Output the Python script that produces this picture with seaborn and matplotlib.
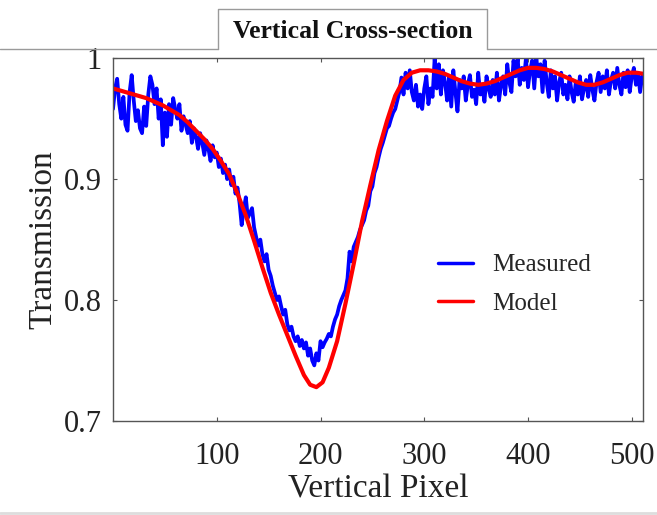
import numpy as np
import pandas as pd
import matplotlib
matplotlib.use("Agg")
import matplotlib.pyplot as plt
from matplotlib.lines import Line2D
import seaborn as sns

# ---------------- data ----------------
meas_x = list(range(0, 512, 2))
meas_y = [
    # 0 - 70
    0.958, 0.975, 0.983, 0.962, 0.950, 0.968, 0.945, 0.940, 0.972, 0.986,
    0.965, 0.948, 0.957, 0.942, 0.938, 0.960, 0.944, 0.970, 0.985, 0.978,
    0.962, 0.975, 0.950, 0.966, 0.928, 0.955, 0.935, 0.962, 0.945, 0.967,
    0.958, 0.950, 0.962, 0.940, 0.952, 0.945,
    # 72 - 120
    0.938, 0.948, 0.930, 0.942, 0.935, 0.925, 0.938, 0.930, 0.920, 0.932,
    0.925, 0.915, 0.928, 0.918, 0.922, 0.910, 0.917, 0.905, 0.912, 0.900,
    0.908, 0.895, 0.902, 0.888, 0.893,
    # 122 - 200
    0.880, 0.862, 0.875, 0.885, 0.868, 0.872, 0.876, 0.860, 0.852, 0.845,
    0.850, 0.838, 0.832, 0.838, 0.825, 0.820, 0.812, 0.806, 0.800, 0.803,
    0.795, 0.788, 0.792, 0.780, 0.775, 0.778, 0.770, 0.766, 0.770, 0.762,
    0.767, 0.760, 0.765, 0.754, 0.760, 0.750, 0.746, 0.756, 0.750, 0.766,
    # 202 - 280
    0.761, 0.765, 0.768, 0.772, 0.770, 0.778, 0.784, 0.788, 0.795, 0.800,
    0.804, 0.808, 0.818, 0.840, 0.832, 0.844, 0.848, 0.852, 0.858, 0.862,
    0.866, 0.874, 0.878, 0.890, 0.894, 0.905, 0.910, 0.918, 0.925, 0.930,
    0.936, 0.942, 0.944, 0.950, 0.955, 0.958, 0.965, 0.972, 0.984, 0.970,
    # 282 - 510
    0.988, 0.975, 0.990, 0.972, 0.965, 0.978, 0.960, 0.970, 0.958, 0.975,
    0.985, 0.962, 0.975, 0.968, 1.000, 0.975, 0.995, 0.970, 0.990, 0.980,
    0.965, 0.985, 0.960, 0.990, 0.972, 0.956, 0.982, 0.975, 0.985, 0.965,
    0.978, 0.986, 0.968, 0.974, 0.962, 0.988, 0.970, 0.976, 0.964, 0.985,
    0.975, 0.968, 0.982, 0.970, 0.988, 0.965, 0.978, 0.985, 0.970, 0.995,
    0.980, 0.972, 0.998, 0.985, 1.000, 0.978, 0.992, 0.982, 1.000, 0.976,
    0.990, 0.998, 0.975, 1.000, 0.985, 0.995, 0.972, 0.998, 0.980, 0.968,
    0.990, 0.975, 0.985, 0.965, 0.980, 0.988, 0.970, 0.978, 0.966, 0.985,
    0.972, 0.964, 0.980, 0.970, 0.985, 0.966, 0.975, 0.982, 0.968, 0.986,
    0.974, 0.965, 0.980, 0.988, 0.972, 0.985, 0.975, 0.990, 0.970, 0.982,
    0.988, 0.975, 0.992, 0.978, 0.970, 0.988, 0.976, 0.990, 0.972, 0.985,
    0.992, 0.978, 0.988, 0.972, 0.985,
]

model_x = [0, 8, 16, 24, 32, 40, 48, 56, 64, 72, 80, 88, 96, 104, 112, 120,
           128, 136, 144, 152, 160, 168, 176, 184, 190, 196, 202, 208, 216,
           224, 232, 240, 248, 256, 264, 272, 280, 288, 296, 304, 312, 320,
           328, 336, 344, 352, 360, 368, 376, 384, 392, 400, 408, 416, 424,
           432, 440, 448, 456, 464, 472, 480, 488, 496, 504, 512]
model_y = [0.975, 0.973, 0.971, 0.969, 0.967, 0.964, 0.961, 0.957, 0.953,
           0.947, 0.940, 0.933, 0.925, 0.915, 0.904, 0.888, 0.870, 0.849,
           0.827, 0.806, 0.788, 0.771, 0.754, 0.738, 0.730, 0.728, 0.732,
           0.744, 0.766, 0.797, 0.830, 0.865, 0.895, 0.924, 0.948, 0.969,
           0.982, 0.988, 0.990, 0.990, 0.989, 0.987, 0.984, 0.981, 0.979,
           0.978, 0.979, 0.981, 0.984, 0.987, 0.990, 0.992, 0.992, 0.991,
           0.989, 0.986, 0.983, 0.980, 0.978, 0.978, 0.980, 0.983, 0.986,
           0.988, 0.988, 0.987]

x_ticks = [100, 200, 300, 400, 500]
y_ticks = [0.7, 0.8, 0.9, 1.0]
y_ticklabels = ["0.7", "0.8", "0.9", "1"]

n = min(len(meas_x), len(meas_y))
meas_df = pd.DataFrame({"pixel": meas_x[:n], "transmission": meas_y[:n]})
model_df = pd.DataFrame({"pixel": model_x, "transmission": model_y})

# ---------------- style ----------------
sns.set_theme(style="white")
plt.rcParams["font.family"] = ["Liberation Serif", "DejaVu Serif"]

fig = plt.figure(figsize=(6.57, 5.15), dpi=100)
ax = fig.add_axes([0.172, 0.1825, 0.807, 0.7045])

sns.lineplot(data=meas_df, x="pixel", y="transmission", ax=ax,
             color="#0000ff", linewidth=2.7, estimator=None, sort=False)
sns.lineplot(data=model_df, x="pixel", y="transmission", ax=ax,
             color="#ff0000", linewidth=3.0, estimator=None, sort=False)

ax.set_xlim(0, 511)
ax.set_ylim(0.7, 1.0)
ax.set_xticks(x_ticks)
ax.set_yticks(y_ticks)
ax.set_yticklabels(y_ticklabels)
ax.tick_params(direction="in", length=3, width=0.8, colors="#555555",
               labelcolor="#222222", labelsize=22, top=True, right=True,
               bottom=True, left=True)
ax.tick_params(axis="x", pad=15)
ax.tick_params(axis="y", pad=8)
for s in ax.spines.values():
    s.set_color("#555555")
    s.set_linewidth(1.0)

ax.set_xlabel("Vertical Pixel", fontsize=24, color="#222222", labelpad=2)
ax.set_ylabel("Transmission", fontsize=24, color="#222222", labelpad=4)

handles = [Line2D([], [], color="#0000ff", linewidth=2.5),
           Line2D([], [], color="#ff0000", linewidth=2.5)]
ax.legend(handles, ["Measured", "Model"], frameon=False, fontsize=18,
          loc="center left", bbox_to_anchor=(0.570, 0.377),
          handlelength=1.4, handletextpad=0.8, labelspacing=0.63)

# ---------------- title tab ----------------
line_c = "#9a9a9a"
y_line = 0.905
x0, x1, ytop = 0.332, 0.741, 0.982
fig.add_artist(Line2D([0, x0], [y_line, y_line], color=line_c, lw=1.0,
                      transform=fig.transFigure))
fig.add_artist(Line2D([x1, 1], [y_line, y_line], color=line_c, lw=1.0,
                      transform=fig.transFigure))
fig.add_artist(Line2D([x0, x0, x1, x1], [y_line, ytop, ytop, y_line],
                      color=line_c, lw=1.0, transform=fig.transFigure))
fig.text((x0 + x1) / 2, (y_line + ytop) / 2 - 0.004, "Vertical Cross-section",
         ha="center", va="center", fontsize=18.5, fontweight="bold",
         color="#111111")
fig.add_artist(Line2D([0, 1], [0.004, 0.004], color="#dddddd", lw=2.0,
                      transform=fig.transFigure))

fig.savefig("out.png", dpi=100)
